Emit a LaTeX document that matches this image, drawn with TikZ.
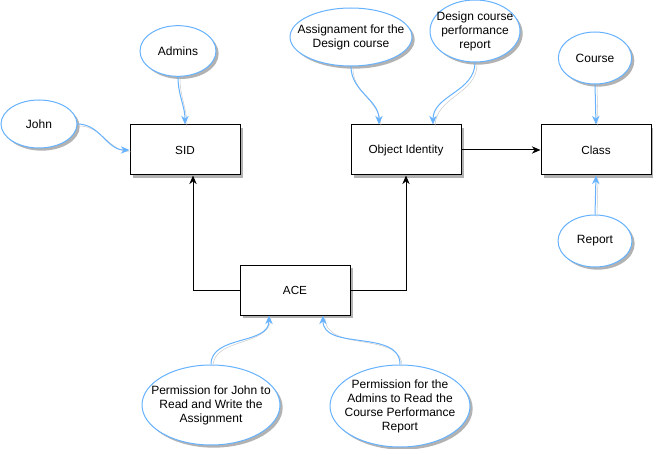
\documentclass[tikz,border=0pt]{standalone}
\usepackage{fontspec}
\setmainfont{Liberation Sans}
\usetikzlibrary{arrows.meta,shapes.geometric,shadows,calc}
\definecolor{linkblue}{RGB}{102,178,255}

\begin{document}
\begin{tikzpicture}[x=0.75pt, y=-0.75pt,
    box/.style={draw, line width=0.75pt, fill=white, minimum width=82.5pt, minimum height=37.5pt, font=\fontsize{8.8}{10}\selectfont,
        drop shadow={shadow xshift=2pt, shadow yshift=-2pt, fill=black!30, opacity=1}},
    actor/.style={ellipse, draw=linkblue, line width=0.75pt, fill=white, inner sep=0pt,
        drop shadow={shadow xshift=2pt, shadow yshift=-2pt, fill=black!30, opacity=1}},
    txt/.style={align=center, inner sep=0pt, font=\fontsize{9}{10.5}\selectfont},
    link/.style={-{Stealth[length=6.5pt, width=5.5pt]}, draw=linkblue, line width=0.75pt,
        preaction={draw=black!20, -, transform canvas={shift={(1.5pt,-1.5pt)}}}},
    arr/.style={-{Stealth[length=6.5pt, width=5.5pt]}, line width=0.75pt}
]
\useasboundingbox (0,0) rectangle (653,449);

\node[box] (sid) at (185,150) {SID};
\node[box] (oi) at (406,150) {Object Identity};
\node[box] (cls) at (596,150) {Class};
\node[box] (ace) at (295,290) {ACE};

\node[actor, minimum width=57pt, minimum height=36pt, label={[txt]center:John}] (john) at (39,124) {};
\node[actor, minimum width=57pt, minimum height=38pt, label={[txt]center:Admins}] (admins) at (178,51) {};
\node[actor, minimum width=91.5pt, minimum height=43.5pt, label={[txt]center:Assignament for the\\Design course}] (assign) at (351,37) {};
\node[actor, minimum width=67.5pt, minimum height=46.5pt, label={[txt]center:Design course\\performance\\report}] (perf) at (475,31) {};
\node[actor, minimum width=55pt, minimum height=39pt, label={[txt]center:Course}] (course) at (595,58) {};
\node[actor, minimum width=55.5pt, minimum height=39pt, label={[txt]center:Report}] (report) at (595,241) {};
\node[actor, minimum width=103.5pt, minimum height=60pt, label={[txt]center:Permission for John to\\Read and Write the\\Assignment}] (permjohn) at (211,405) {};
\node[actor, minimum width=105pt, minimum height=61.5pt, label={[txt]center:Permission for the\\Admins to Read the\\Course Performance\\Report}] (permadm) at (400,406) {};

\draw[link] (john.east) to[out=0, in=180] (sid.west);
\draw[link] (admins.south) to[out=-90, in=90] (sid.north);
\draw[link] (assign.south) to[out=-90, in=90] ($(oi.north)+(-27,0)$);
\draw[link] (perf.south) to[out=-90, in=90] ($(oi.north)+(27,0)$);
\draw[link] (course.south) -- (cls.north);
\draw[link] (report.north) -- (cls.south);
\draw[link] (permjohn.north) to[out=90, in=-90] ($(ace.south)+(-26,0)$);
\draw[link] (permadm.north) to[out=90, in=-90] ($(ace.south)+(28,0)$);

\draw[arr] (ace.west) -| ($(sid.south)+(8,0)$);
\draw[arr] (ace.east) -| (oi.south);
\draw[arr] (oi.east) -- (cls.west);
\end{tikzpicture}
\end{document}
